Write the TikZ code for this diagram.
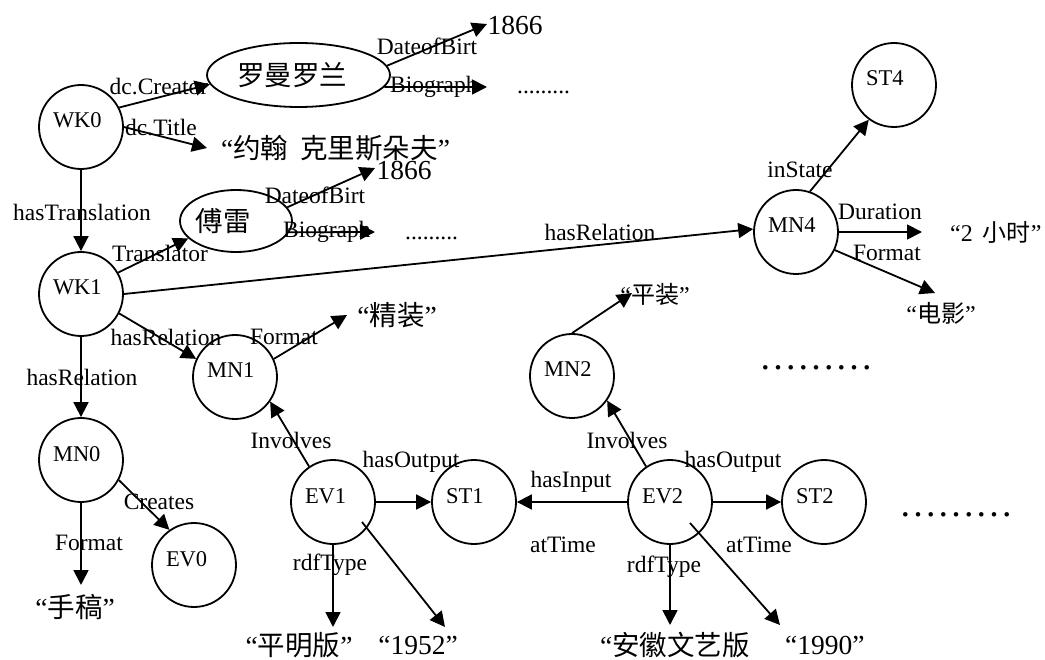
\documentclass[tikz,border=0pt]{standalone}
\usepackage{fontspec}
\setmainfont{Liberation Serif}
\newfontfamily\cjk{Noto Sans CJK SC}
\usetikzlibrary{arrows.meta,shapes.geometric,calc}
\newcommand{\zh}[1]{{\cjk #1}}
\begin{document}
\begin{tikzpicture}[x=1pt,y=-1pt,
  lbl/.style={font=\fontsize{23.5}{28}\selectfont, inner sep=0pt},
  big/.style={font=\fontsize{27.5}{32}\selectfont, inner sep=0pt},
  mid/.style={font=\fontsize{24}{28}\selectfont, inner sep=0pt},
  bigdots/.style={font=\fontsize{38}{40}\selectfont, inner sep=0pt, anchor=base west},
  ent/.style={circle, draw, line width=1.8pt, minimum size=84pt, inner sep=0pt,
    font=\fontsize{22.5}{27}\selectfont, text width=56pt, align=left,
    text height=15pt, text depth=13pt},
  ell/.style={ellipse, draw, line width=1.8pt, inner sep=0pt},
  arr/.style={line width=1.8pt, -{Triangle[length=15pt,width=15pt]}},
]
\useasboundingbox (0,0) rectangle (1045,660);

% entity circles
\node[ent] (WK0) at (81,127) {WK0};
\node[ent] (WK1) at (81,294) {WK1};
\node[ent] (MN0) at (81,460) {MN0};
\node[ent] (MN1) at (235,377) {MN1};
\node[ent] (EV0) at (194,565) {EV0};
\node[ent] (EV1) at (333,502) {EV1};
\node[ent] (ST1) at (474,502) {ST1};
\node[ent] (MN2) at (572,376) {MN2};
\node[ent] (EV2) at (670,502) {EV2};
\node[ent] (ST2) at (824,502) {ST2};
\node[ent] (MN4) at (796,232) {MN4};
\node[ent] (ST4) at (894,85) {ST4};

% ellipses
\node[ell, minimum width=183pt, minimum height=64pt,
  label={[big,xshift=-6.5pt]center:\zh{罗曼罗兰}}] (LM) at (298.5,75) {};
\node[ell, minimum width=112pt, minimum height=62pt,
  label={[big,xshift=-13pt]center:\zh{傅雷}}] (FL) at (236,221) {};

% value texts
\node[big] (y1) at (515,25) {1866};
\node[big] (y2) at (404,170) {1866};
\node[big,anchor=west] (title) at (221,148) {“\zh{约翰\hspace{12pt}克里斯朵夫}”};
\node[big] (jz) at (397,315) {“\zh{精装}”};
\node[mid] (pz) at (655,294) {“\zh{平装}”};
\node[big] (sg) at (75,607) {“\zh{手稿}”};
\node[big] (pmb) at (299,645) {“\zh{平明版}”};
\node[big] (y1952) at (418,645) {“1952”};
\node[big,anchor=west] (ah) at (600,645) {“\zh{安徽文艺版}};
\node[big,anchor=west] (y1990) at (785,645) {“1990”};
\node[mid,anchor=west] (h2) at (950,232) {“2\hspace{10pt}\zh{小时}”};
\node[mid] (dy) at (941,313) {“\zh{电影}”};
\node[lbl,anchor=base west] (e1) at (517,93.5) {.........};
\node[lbl,anchor=base west] (e2) at (405,239.5) {.........};
\node[bigdots] (dots1) at (759,370) {………};
\node[bigdots] (dots2) at (899,516) {………};

% edge labels
\node[lbl] (d1) at (427,46) {DateofBirt};
\node[lbl,anchor=west] (b1) at (390,87) {Biograph};
\node[lbl] (d2) at (315,195) {DateofBirt};
\node[lbl,anchor=west] (b2) at (283,232) {Biograph};
\node[lbl] (lcr) at (159,87) {dc.Creator};
\node[lbl] (lti) at (161,128) {dc.Title};
\node[lbl] (lht) at (82,212) {hasTranslation};
\node[lbl] (ltr) at (160,253) {Translator};
\node[lbl] (lr4) at (600,232) {hasRelation};
\node[lbl] (lr1) at (166,337) {hasRelation};
\node[lbl] (lf1) at (284,337) {Format};
\node[lbl] (lr0) at (82,377) {hasRelation};
\node[lbl] (lcre) at (159,502) {Creates};
\node[lbl] (lf0) at (89,543) {Format};
\node[lbl] (linv1) at (291,440) {Involves};
\node[lbl] (lout1) at (411,462) {hasOutput};
\node[lbl] (lrdf1) at (330,565) {rdfType};
\node[lbl] (linv2) at (627,440) {Involves};
\node[lbl] (lin) at (571,482) {hasInput};
\node[lbl] (lat1) at (563,545) {atTime};
\node[lbl] (lout2) at (733,462) {hasOutput};
\node[lbl] (lrdf2) at (664,567) {rdfType};
\node[lbl] (lat2) at (759,545) {atTime};
\node[lbl] (lins) at (800,170) {inState};
\node[lbl] (ldur) at (880,212) {Duration};
\node[lbl] (lf4) at (887,253) {Format};

% free arrow ends
\coordinate (cTitle) at (207,148);
\coordinate (c1866a) at (487,24);
\coordinate (cBioA) at (487,87);
\coordinate (c1866b) at (375,168);
\coordinate (cBioB) at (375,232);
\coordinate (cJZ) at (347,315);
\coordinate (cSG) at (81,585);
\coordinate (cPMB) at (333,627);
\coordinate (c1952) at (445,627);
\coordinate (cPZ) at (632,293);
\coordinate (cAH) at (670,625);
\coordinate (c1990) at (780,625);
\coordinate (cH2) at (922,232);
\coordinate (cDY) at (935,293);

% connectors
\draw[arr] (WK0.27) -- (LM.186);
\draw[arr] (WK0.0) -- (cTitle);
\draw[arr] (WK0.south) -- (WK1.north);
\draw[arr] (LM.6) -- (c1866a);
\draw[arr] (LM.-8) -- (cBioA);
\draw[arr] (FL.15) -- (c1866b);
\draw[arr] (FL.-12) -- (cBioB);
\draw[arr] (WK1.30) -- (FL.200);
\draw[arr] (WK1.0) -- (MN4.176);
\draw[arr] (WK1.-27) -- (MN1.155);
\draw[arr] (WK1.south) -- (MN0.north);
\draw[arr] (MN1.25) -- (cJZ);
\draw[arr] (MN0.-28) -- (EV0.125);
\draw[arr] (MN0.south) -- (cSG);
\draw[arr] (EV1.124) -- (MN1.-35);
\draw[arr] (EV1.east) -- (ST1.west);
\draw[arr] (EV1.south) -- (cPMB);
\draw[arr] ($(EV1)+(29,20)$) -- (c1952);
\draw[arr] (EV2.124) -- (MN2.-35);
\draw[arr] (MN2.north) -- (cPZ);
\draw[arr] (EV2.west) -- (ST1.east);
\draw[arr] (EV2.east) -- (ST2.west);
\draw[arr] (EV2.south) -- (cAH);
\draw[arr] ($(EV2)+(20,21)$) -- (c1990);
\draw[arr] (MN4.71) -- (ST4.234);
\draw[arr] (MN4.east) -- (cH2);
\draw[arr] (MN4.-25) -- (cDY);
\end{tikzpicture}
\end{document}
